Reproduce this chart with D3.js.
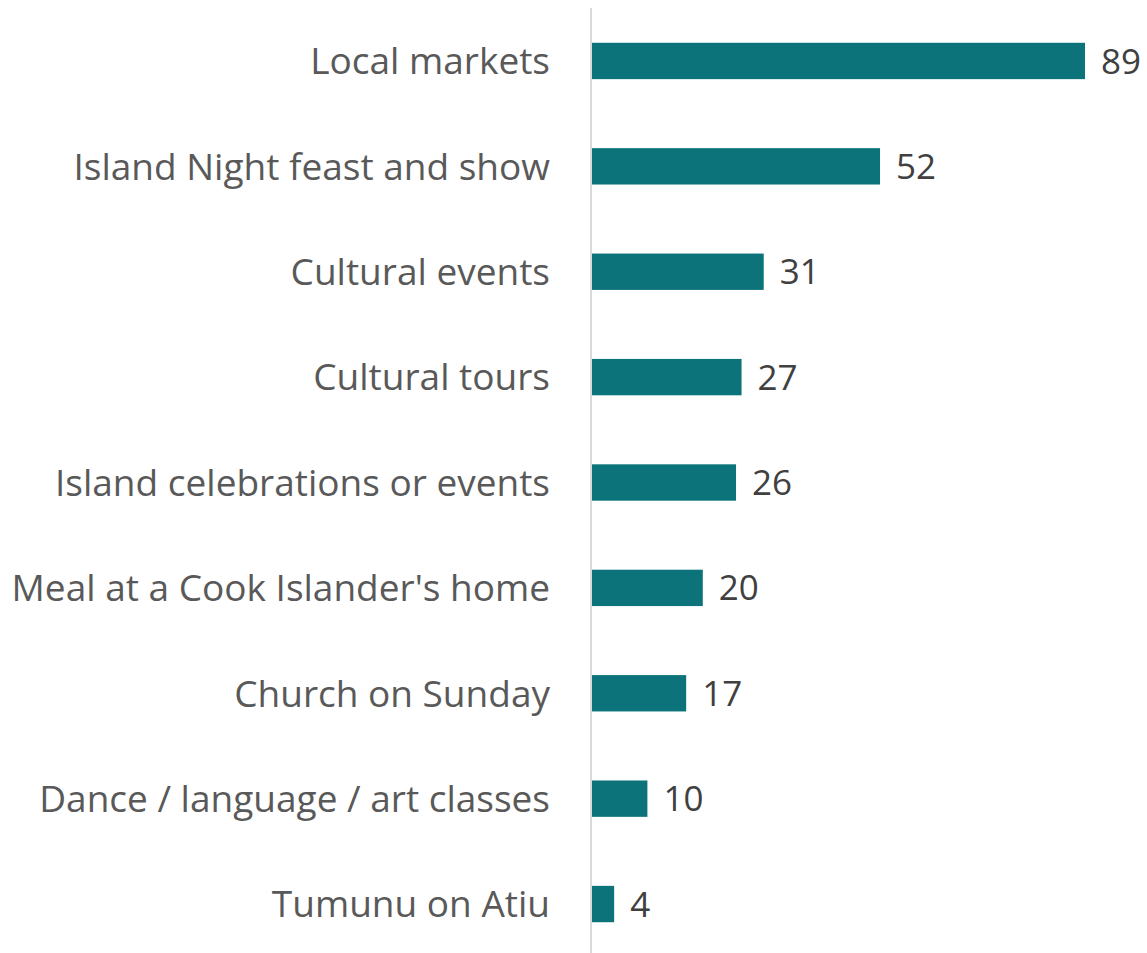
<!DOCTYPE html>
<html>
<head>
<meta charset="utf-8">
<script src="https://cdn.jsdelivr.net/npm/d3@7"></script>
<style>
  body { margin: 0; background: #fff; }
  svg { display: block; }
</style>
</head>
<body>
<svg width="1147" height="953"></svg>
<script>
const categories = [
  'Local markets',
  'Island Night feast and show',
  'Cultural events',
  'Cultural tours',
  'Island celebrations or events',
  "Meal at a Cook Islander's home",
  'Church on Sunday',
  'Dance / language / art classes',
  'Tumunu on Atiu'
]
const values = [89, 52, 31, 27, 26, 20, 17, 10, 4]

const svg = d3.select('svg')
const font = "'Open Sans', sans-serif"

// plot area: axis line sits at x = 591
const x = d3.scaleLinear().domain([0, 89]).range([592, 1085])
const y = d3.scaleBand().domain(categories).range([8, 957]).paddingInner(0.655).paddingOuter(0.33)

// vertical axis line
svg.append('line')
  .attr('x1', 591).attr('x2', 591)
  .attr('y1', 8).attr('y2', 953)
  .attr('stroke', '#d9d9d9')
  .attr('stroke-width', 2)

const rows = svg.append('g')
  .selectAll('g')
  .data(categories.map((c, i) => ({ c, v: values[i] })))
  .join('g')

rows.append('rect')
  .attr('x', x(0))
  .attr('y', (d) => y(d.c))
  .attr('width', (d) => x(d.v) - x(0))
  .attr('height', y.bandwidth())
  .attr('fill', '#0b7379')

rows.append('text')
  .attr('x', 550)
  .attr('y', (d) => y(d.c) + y.bandwidth() / 2)
  .attr('dy', '0.36em')
  .attr('text-anchor', 'end')
  .attr('font-family', font)
  .attr('font-size', 37)
  .attr('fill', '#595959')
  .text((d) => d.c)

rows.append('text')
  .attr('x', (d) => x(d.v) + 16)
  .attr('y', (d) => y(d.c) + y.bandwidth() / 2)
  .attr('dy', '0.36em')
  .attr('font-family', font)
  .attr('font-size', 35)
  .attr('fill', '#404040')
  .text((d) => d.v)
</script>
</body>
</html>
